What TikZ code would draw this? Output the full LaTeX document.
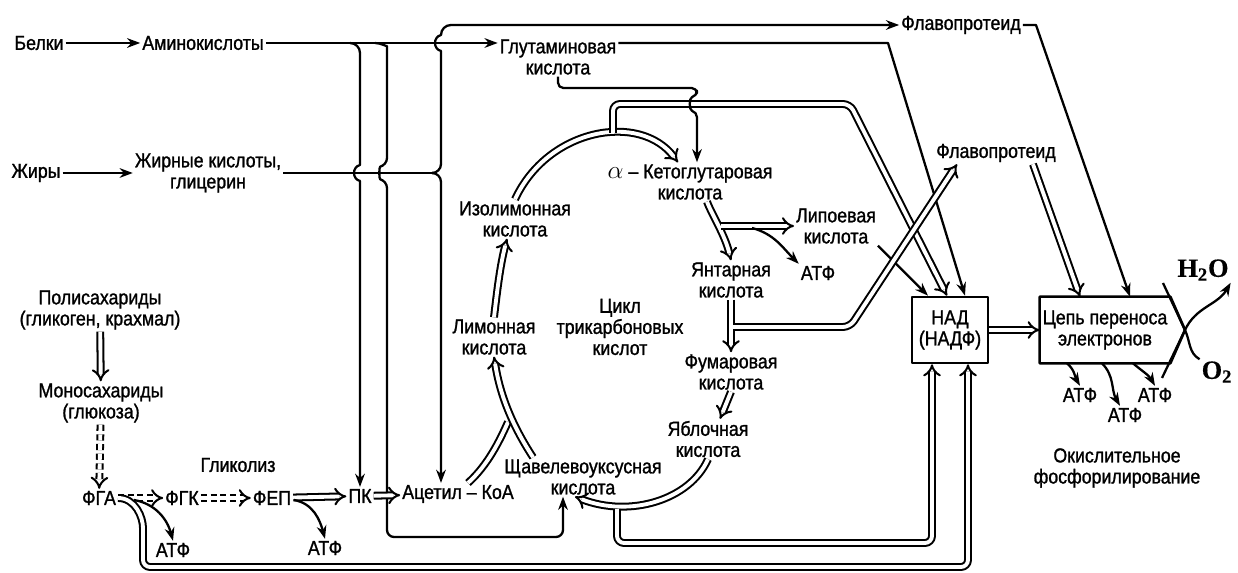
\documentclass[tikz,border=0pt]{standalone}
\usepackage{fontspec}
\setmainfont[FakeStretch=0.88,FakeBold=1.2]{Liberation Sans}
\newfontfamily\formulafont[FakeBold=0.4]{Liberation Serif}
\usetikzlibrary{arrows.meta}

\begin{document}
\begin{tikzpicture}[
  x=0.02cm,
  y=-0.02cm,
  line join=round,
  every node/.style={font=\fontsize{11.5}{12}\selectfont,inner sep=1pt,align=center},
  pathline/.style={line width=1.3pt},
  patharrow/.style={pathline,-{Stealth[length=7.5pt,width=5.5pt]}},
  dblline/.style={line width=1.15pt,double=white,double distance=2.2pt},
  dblarrow/.style={dblline,-{Implies[scale=1.3]}},
  dbldashed/.style={dblarrow,dash pattern=on 3.5pt off 2pt},
  boxline/.style={line width=1.5pt},
  formula/.style={font=\formulafont\bfseries\fontsize{15}{15}\selectfont}
]
  \useasboundingbox (0,0) rectangle (1238,573);

  % Sources: proteins, fats, carbohydrates.
  \node (belki) at (39,43) {Белки};
  \node (amino) at (203,43) {Аминокислоты};
  \node (zhiry) at (36,173) {Жиры};
  \node (fattyacid) at (208,173) {Жирные кислоты,\\глицерин};
  \node (poly) at (100,310) {Полисахариды\\(гликоген, крахмал)};
  \node (mono) at (101,403) {Моносахариды\\(глюкоза)};

  % Glycolysis row.
  \node (fga) at (99,498) {ФГА};
  \node (fgk) at (182,498) {ФГК};
  \node (fep) at (272,498) {ФЕП};
  \node (glycolysis) at (238,465) {Гликолиз};
  \node (atpfga) at (173,550) {АТФ};
  \node (atpfep) at (325,548) {АТФ};
  \node (pk) at (360,496) {ПК};
  \node (acetyl) at (458,494) {Ацетил – КоА};

  % Tricarboxylic acid cycle.
  \node (oaa) at (583,477) {Щавелевоуксусная\\кислота};
  \node (citrate) at (494,337) {Лимонная\\кислота};
  \node (isocitrate) at (515,219) {Изолимонная\\кислота};
  \node (akg) at (690,182) {{\Large$\alpha$} – Кетоглутаровая\\кислота};
  \node (glutamate) at (558,57) {Глутаминовая\\кислота};
  \node (tcacycle) at (620,327) {Цикл\\трикарбоновых\\кислот};
  \node (succinate) at (731,280) {Янтарная\\кислота};
  \node (lipoic) at (836,226) {Липоевая\\кислота};
  \node (atpakg) at (818,273) {АТФ};
  \node (fumarate) at (731,372) {Фумаровая\\кислота};
  \node (malate) at (708,439) {Яблочная\\кислота};

  % Electron transport chain.
  \node (flavotop) at (961,25) {Флавопротеид};
  \node (flavomid) at (996,153) {Флавопротеид};
  \node[draw,boxline,minimum width=1.52cm,minimum height=1.32cm] (nad) at (950,330) {НАД\\(НАДФ)};
  \node[minimum width=2.6cm,minimum height=1.32cm] (chain) at (1105,330) {Цепь переноса\\электронов};
  \node[formula] (water) at (1203,270) {H\textsubscript{2}O};
  \node[formula] (oxygen) at (1217,372) {O\textsubscript{2}};
  \node (atpa) at (1080,395) {АТФ};
  \node (atpb) at (1155,395) {АТФ};
  \node (atpc) at (1125,415) {АТФ};
  \node (oxphos) at (1117,468) {Окислительное\\фосфорилирование};

  % Feeder lines from amino acids and fatty acids.
  \draw[patharrow] (belki) -- (amino);
  \draw[patharrow] (zhiry) -- (fattyacid);
  \draw[patharrow] (amino) -- (glutamate.west |- amino.east);
  \draw[patharrow] (350,43) to[out=0,in=90] (360,53) -- (360,165)
    .. controls (352,167) and (352,179) .. (360,181) -- (pk.north);
  \draw[patharrow,rounded corners=4pt] (375,43) to[out=0,in=90] (387,53) -- (387,165)
    .. controls (379,167) and (379,179) .. (387,181) -- (387,537) -- (563,537)
    -- ([xshift=-0.4cm]oaa.south);
  \draw[pathline] (fattyacid.east) -- (432,173);
  \draw[patharrow] (432,173) to[out=0,in=90] (441,182) -- ([xshift=-0.34cm]acetyl.north);
  \draw[patharrow] (432,173) to[out=0,in=-90] (441,164) -- (441,51)
    .. controls (433,49) and (433,37) .. (441,35) to[out=90,in=180] (451,25) -- (flavotop.west);

  % Glycolysis arrows.
  \draw[dblarrow] (poly) -- (mono);
  \draw[dbldashed] (mono) -- (fga);
  \draw[dbldashed] (fga) -- (fgk);
  \draw[dbldashed] (fgk) -- (fep);
  \draw[dblarrow] (fep) -- (pk);
  \draw[dblarrow] (pk) -- (acetyl);
  \draw[patharrow] (134,500) to[out=-10,in=105] (atpfga.north);
  \draw[patharrow] (294,500) to[out=-10,in=105] (atpfep.north);

  % Cycle steps.
  \draw[dblline] ([xshift=0.2cm]acetyl.north) .. controls (488,465) and (500,440) .. (508,422);
  \draw[dblarrow] ([xshift=-1cm]oaa.north) .. controls (512,425) and (500,395) .. (citrate.south);
  \draw[dblarrow] (citrate.north) .. controls (497,292) and (500,266) .. ([xshift=-0.16cm]isocitrate.south);
  \draw[dblarrow] (isocitrate.north) .. controls (548,128) and (640,112) .. ([xshift=-0.24cm]akg.north);
  \draw[dblarrow,rounded corners=4pt] (613,133) -- (613,104) -- (850,104) -- ([xshift=-0.06cm]nad.north);
  \draw[patharrow,rounded corners=3pt] (glutamate.south) -- (558,88) -- (697,88) -- (697,96)
    .. controls (689,98) and (689,110) .. (697,112) -- ([xshift=0.14cm]akg.north);
  \draw[patharrow] (glutamate.east |- amino.east) -- (888,43) -- ([xshift=0.3cm]nad.north);
  \draw[dblarrow] ([xshift=0.34cm]akg.south) .. controls (712,215) and (725,235) .. (succinate.north);
  \draw[dblarrow] (721,226) -- (lipoic.west);
  \draw[patharrow] (752,228) to[out=-15,in=135] (atpakg.north west);
  \draw[dblarrow] (succinate) -- (fumarate);
  \draw[dblarrow] (fumarate.south) -- ([xshift=0.24cm]malate.north);
  \draw[dblarrow] (malate.south) .. controls (690,500) and (630,518) .. ([xshift=-0.16cm]oaa.south);

  % NADH collection to the box.
  \draw[dblarrow,rounded corners=4pt] (617,509) -- (617,543) -- (932,543) -- ([xshift=-0.36cm]nad.south);
  \draw[dblarrow,rounded corners=4pt] (fga.east) to[out=0,in=90] (143,535) -- (143,567)
    -- (968,567) -- ([xshift=0.36cm]nad.south);
  \draw[patharrow] (lipoic.south east) -- ([xshift=-0.44cm]nad.north);

  % Respiratory chain box with the crossing to water.
  \draw[dblarrow] (nad) -- (chain);
  \draw[boxline] (chain.north west) -- (chain.north east) -- (1185,330) -- (chain.south east)
    -- (chain.south west) -- cycle;
  \draw[pathline] (1163,283) -- (1185,330) to[out=-65,in=150] (oxygen.north west);
  \draw[patharrow] (1162,378) -- (1185,330) to[out=65,in=-120] (water.south east);
  \draw[dblarrow] ([xshift=0.74cm]flavomid.south) -- ([xshift=-0.5cm]chain.north);
  \draw[patharrow] (flavotop.east) -- (1036,25) -- ([xshift=0.5cm]chain.north);
  \draw[patharrow] ([xshift=-0.76cm]chain.south) to[out=-40,in=120] (atpa.north);
  \draw[patharrow] ([xshift=-0.06cm]chain.south) to[out=-45,in=120] ([xshift=-0.1cm]atpc.north);
  \draw[patharrow] ([xshift=0.56cm]chain.south) to[out=-40,in=120] (atpb.north);

  % Succinate to flavoprotein passes over the other lines.
  \draw[dblarrow,rounded corners=4pt] (733,327) -- (850,327) -- ([xshift=-0.78cm]flavomid.south);
\end{tikzpicture}
\end{document}
